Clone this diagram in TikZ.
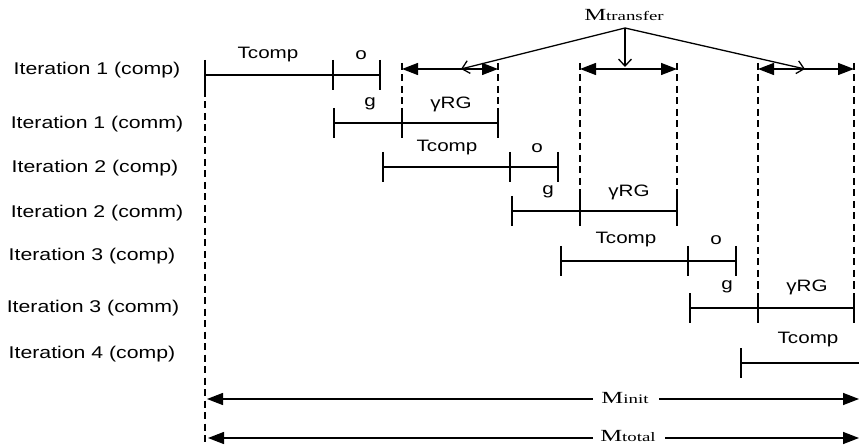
\documentclass[tikz,border=0pt]{standalone}
\usepackage{fontspec}
\setmainfont{Liberation Sans}
\newfontfamily\serifM{Liberation Serif}
\usetikzlibrary{arrows.meta}
\newcommand{\sx}[1]{\scalebox{1.25}[1]{#1}}
\newcommand{\mlab}[1]{\scalebox{1.45}[1]{\serifM\fontsize{17}{19}\selectfont M\fontsize{13}{15}\selectfont #1}}
\begin{document}
\begin{tikzpicture}[x=1pt,y=-1pt,
  seg/.style={line width=1.4pt},
  tk/.style={line width=1.4pt},
  tkthick/.style={line width=2.8pt},
  dline/.style={dash pattern=on 7pt off 4.5pt, line width=1.3pt},
  dimarrow/.style={{Triangle[length=16pt,width=12pt]}-{Triangle[length=16pt,width=12pt]}, line width=1.4pt},
  dimleft/.style={{Triangle[length=16pt,width=12pt]}-, line width=1.4pt},
  dimright/.style={-{Triangle[length=16pt,width=12pt]}, line width=1.4pt},
  barb/.style={-{Straight Barb[length=7pt,width=13pt]}, line width=1.3pt},
  rowlab/.style={inner sep=0pt, font=\fontsize{17}{19}\selectfont},
  seglab/.style={inner sep=0pt, font=\fontsize{16.5}{18}\selectfont},
  mlabel/.style={inner sep=0pt}
]
\useasboundingbox (0,0) rectangle (859,446);

% row labels
\node[rowlab] (r1) at (97,70) {\sx{Iteration 1 (comp)}};
\node[rowlab] (r2) at (97,124) {\sx{Iteration 1 (comm)}};
\node[rowlab] (r3) at (95,168) {\sx{Iteration 2 (comp)}};
\node[rowlab] (r4) at (97,213) {\sx{Iteration 2 (comm)}};
\node[rowlab] (r5) at (92,256) {\sx{Iteration 3 (comp)}};
\node[rowlab] (r6) at (93,308) {\sx{Iteration 3 (comm)}};
\node[rowlab] (r7) at (92,354) {\sx{Iteration 4 (comp)}};

% ---- Row 1: Iteration 1 comp (y=75)
\coordinate (a0) at (205,75); \coordinate (a1) at (333,75); \coordinate (a2) at (380,75);
\draw[seg] (a0) -- (a1) -- (a2);
\draw[tk] (205,60) -- (205,90);
\draw[tk] (333,60) -- (333,90);
\draw[tk] (380,60) -- (380,90);
\node[seglab] (t1) at (268,55) {\sx{Tcomp}};
\node[seglab] (o1) at (361,55) {\sx{o}};

% ---- Row 2: Iteration 1 comm (y=123)
\coordinate (b0) at (334,123); \coordinate (b1) at (402,123); \coordinate (b2) at (498,123);
\draw[seg] (b0) -- (b1) -- (b2);
\draw[tk] (334,108) -- (334,138);
\draw[tkthick] (402,108) -- (402,138);
\draw[tk] (498,108) -- (498,138);
\node[seglab] (g1) at (370,104) {\sx{g}};
\node[seglab] (y1) at (451,104) {\sx{γRG}};

% ---- Row 3: Iteration 2 comp (y=167)
\coordinate (c0) at (383,167); \coordinate (c1) at (510,167); \coordinate (c2) at (558,167);
\draw[seg] (c0) -- (c1) -- (c2);
\draw[tk] (383,152) -- (383,182);
\draw[tk] (510,152) -- (510,182);
\draw[tk] (558,152) -- (558,182);
\node[seglab] (t2) at (447,148) {\sx{Tcomp}};
\node[seglab] (o2) at (537,148) {\sx{o}};

% ---- Row 4: Iteration 2 comm (y=211)
\coordinate (d0) at (512,211); \coordinate (d1) at (580,211); \coordinate (d2) at (677,211);
\draw[seg] (d0) -- (d1) -- (d2);
\draw[tk] (512,196) -- (512,226);
\draw[tkthick] (580,196) -- (580,226);
\draw[tk] (677,196) -- (677,226);
\node[seglab] (g2) at (548,192) {\sx{g}};
\node[seglab] (y2) at (629,192) {\sx{γRG}};

% ---- Row 5: Iteration 3 comp (y=261)
\coordinate (e0) at (561,261); \coordinate (e1) at (688,261); \coordinate (e2) at (736,261);
\draw[seg] (e0) -- (e1) -- (e2);
\draw[tk] (561,246) -- (561,276);
\draw[tk] (688,246) -- (688,276);
\draw[tk] (736,246) -- (736,276);
\node[seglab] (t3) at (626,240) {\sx{Tcomp}};
\node[seglab] (o3) at (716,240) {\sx{o}};

% ---- Row 6: Iteration 3 comm (y=308)
\coordinate (f0) at (690,308); \coordinate (f1) at (758,308); \coordinate (f2) at (854,308);
\draw[seg] (f0) -- (f1) -- (f2);
\draw[tk] (690,293) -- (690,323);
\draw[tkthick] (758,293) -- (758,323);
\draw[tk] (854,293) -- (854,323);
\node[seglab] (g3) at (727,287) {\sx{g}};
\node[seglab] (y3) at (807,287) {\sx{γRG}};

% ---- Row 7: Iteration 4 comp (y=363)
\coordinate (h0) at (741,363); \coordinate (h1) at (859,363);
\draw[seg] (h0) -- (h1);
\draw[tk] (741,348) -- (741,378);
\node[seglab] (t4) at (808,340) {\sx{Tcomp}};

% ---- dashed verticals
\draw[dline] (205,90) -- (205,446);
\draw[dline] (402,63) -- (402,108);
\draw[dline] (498,63) -- (498,108);
\draw[dline] (580,63) -- (580,196);
\draw[dline] (677,63) -- (677,196);
\draw[dline] (758,63) -- (758,293);
\draw[dline] (854,63) -- (854,293);

% ---- transfer dimension arrows (y=69)
\coordinate (p1l) at (402,69); \coordinate (p1r) at (498,69);
\coordinate (p2l) at (580,69); \coordinate (p2r) at (677,69);
\coordinate (p3l) at (758,69); \coordinate (p3r) at (854,69);
\draw[dimarrow] (p1l) -- (p1r);
\draw[dimarrow] (p2l) -- (p2r);
\draw[dimarrow] (p3l) -- (p3r);

% ---- Mtransfer label and pointers
\node[mlabel] (mt) at (624,15) {\mlab{transfer}};
\coordinate (apex) at (625,28);
\coordinate (q1) at (461,69);
\coordinate (q2) at (625,67);
\coordinate (q3) at (805,69);
\draw[barb] (apex) -- (q1);
\draw[barb] (apex) -- (q2);
\draw[barb] (apex) -- (q3);

% ---- Minit
\coordinate (mi0) at (207,399); \coordinate (mi1) at (859,399);
\node[mlabel] (mi) at (625,398) {\mlab{init}};
\draw[dimleft] (mi0) -- (593,399);
\draw[dimright] (659,399) -- (mi1);

% ---- Mtotal
\coordinate (mo0) at (208,438); \coordinate (mo1) at (859,438);
\node[mlabel] (mo) at (628,436) {\mlab{total}};
\draw[dimleft] (mo0) -- (593,438);
\draw[dimright] (665,438) -- (mo1);
\end{tikzpicture}
\end{document}
